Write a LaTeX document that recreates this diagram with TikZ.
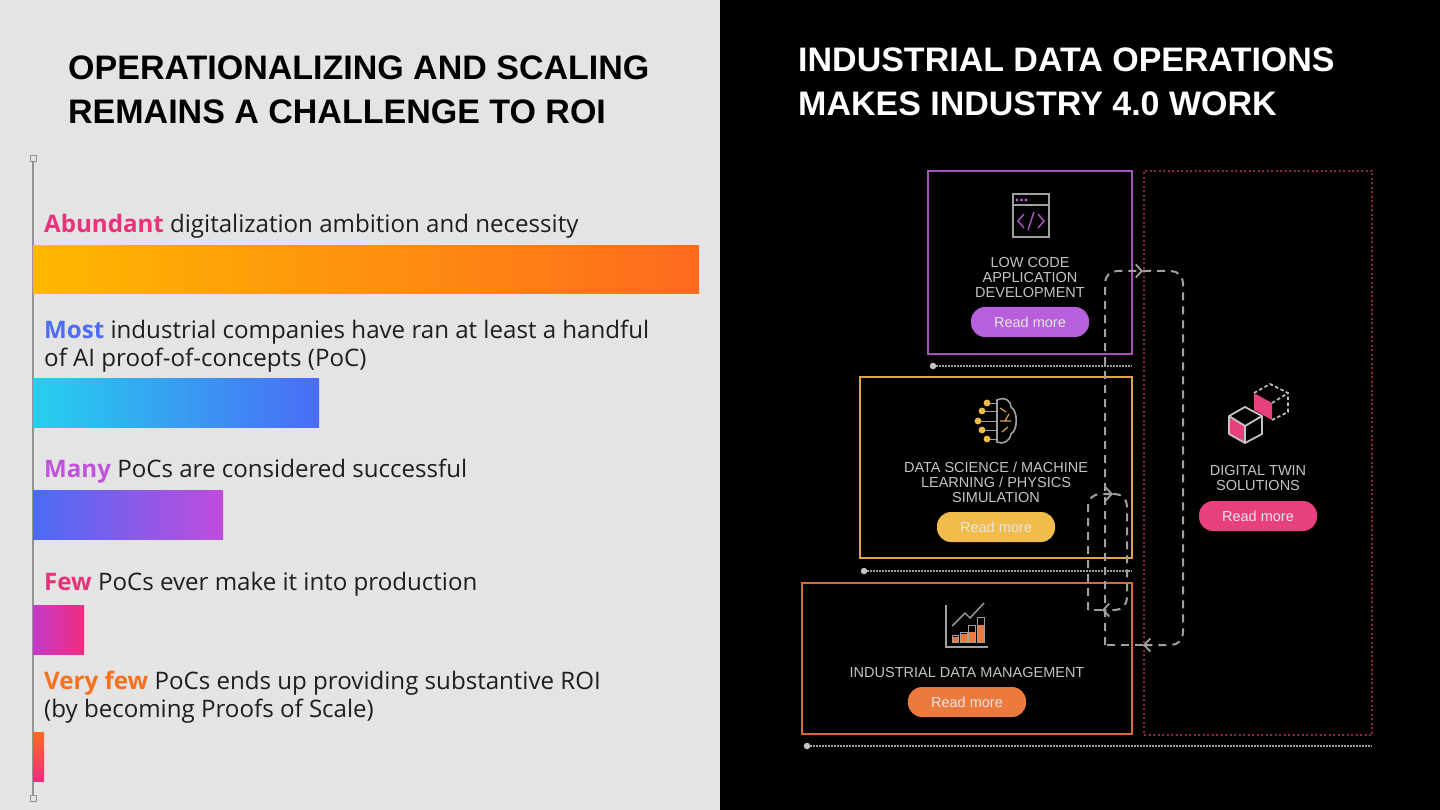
\documentclass[tikz,border=0pt]{standalone}
\usepackage{fontspec}
\setmainfont{Open Sans}
\newfontfamily\labelfont{Liberation Sans}
\usetikzlibrary{arrows.meta}
\definecolor{panelgrey}{HTML}{E4E4E4}
\definecolor{inkdark}{HTML}{1E1E1E}
\definecolor{wordgrey}{HTML}{C4C4C4}
\definecolor{linegrey}{HTML}{A0A0A0}
\definecolor{pinkword}{HTML}{E8327C}
\definecolor{blueword}{HTML}{4F6CF5}
\definecolor{violetword}{HTML}{C052DC}
\definecolor{orangeword}{HTML}{F5711E}
\definecolor{purplebox}{HTML}{A651BE}
\definecolor{yellowbox}{HTML}{DDA548}
\definecolor{orangebox}{HTML}{D9683A}
\definecolor{pinkbox}{HTML}{8E2248}
\definecolor{purplepill}{HTML}{B75FDC}
\definecolor{yellowpill}{HTML}{F2BC4A}
\definecolor{orangepill}{HTML}{EC7A3E}
\definecolor{pinkpill}{HTML}{E8407E}
\definecolor{baramber}{HTML}{FFB800}
\definecolor{barorange}{HTML}{FF6A1E}
\definecolor{barcyan}{HTML}{25D0EE}
\definecolor{barblue}{HTML}{4A6CF5}
\definecolor{barviolet}{HTML}{C04CDD}
\definecolor{barmagenta}{HTML}{C43AC8}
\definecolor{barpink}{HTML}{F02C80}
\tikzset{
    headline/.style={anchor=north west,inner sep=0pt,align=left,font=\labelfont\fontsize{34}{44}\selectfont\bfseries},
    bodytext/.style={anchor=north west,inner sep=0pt,align=left,text=inkdark,font=\fontsize{24.1}{28}\selectfont},
    framebox/.style={draw,line width=2.2pt,inner sep=0pt},
    boxtitle/.style={inner sep=0pt,align=center,text=wordgrey,font=\labelfont\fontsize{14.5}{15}\selectfont},
    readmore/.style={rounded corners=14pt,minimum width=118pt,minimum height=30pt,inner sep=0pt,text=white!80!gray,font=\labelfont\fontsize{14.5}{15}\selectfont},
    flowline/.style={linegrey,line width=2pt,dash pattern=on 8pt off 6pt,rounded corners=12pt},
    barbtip/.style={-{Straight Barb[length=6pt,width=13pt,line width=1.8pt]}},
    dotline/.style={draw=linegrey,line width=2.2pt,dash pattern=on 1.8pt off 1.2pt},
    startdot/.style={circle,fill=wordgrey,inner sep=0pt,minimum size=6.5pt},
    handle/.style={draw=gray!85,fill=panelgrey,line width=1pt,inner sep=0pt,minimum size=6pt},
    iconline/.style={draw=linegrey,line width=1.6pt},
}
\begin{document}
\begin{tikzpicture}[x=1pt,y=-1pt]
    \useasboundingbox (0,0) rectangle (1440,810);
    \fill[panelgrey] (0,0) rectangle (720,810);
    \fill[black] (720,0) rectangle (1440,810);

    \node[headline,text=black] (titleleft) at (68,56) {OPERATIONALIZING AND SCALING\\REMAINS A CHALLENGE TO ROI};
    \node[headline,text=white] (titleright) at (798,48) {INDUSTRIAL DATA OPERATIONS\\MAKES INDUSTRY 4.0 WORK};

    \node[handle] (handletop) at (33,159) {};
    \node[handle] (handlebottom) at (33,798) {};
    \draw[gray!85,line width=1.2pt] (handletop) -- (handlebottom);

    \shade[left color=baramber,right color=barorange] (33,246) rectangle (699,294);
    \shade[left color=barcyan,right color=barblue] (33,378) rectangle (319,427);
    \shade[left color=barblue,right color=barviolet] (33,490) rectangle (223,539);
    \shade[left color=barmagenta,right color=barpink] (33,605) rectangle (84,654);
    \shade[top color=barorange,bottom color=barpink] (33,732) rectangle (44,781);

    \node[bodytext] (lineabundant) at (44,214) {\textcolor{pinkword}{\bfseries Abundant} digitalization ambition and necessity};
    \node[bodytext] (linemost) at (44,320) {\textcolor{blueword}{\bfseries Most} industrial companies have ran at least a handful\\of AI proof-of-concepts (PoC)};
    \node[bodytext] (linemany) at (44,459) {\textcolor{violetword}{\bfseries Many} PoCs are considered successful};
    \node[bodytext] (linefew) at (44,572) {\textcolor{pinkword}{\bfseries Few} PoCs ever make it into production};
    \node[bodytext] (lineveryfew) at (44,671) {\textcolor{orangeword}{\bfseries Very few} PoCs ends up providing substantive ROI\\(by becoming Proofs of Scale)};

    \node[framebox,draw=purplebox,minimum width=204pt,minimum height=183pt] (boxlowcode) at (1030,262.5) {};
    \node[framebox,draw=yellowbox,minimum width=272pt,minimum height=181pt] (boxscience) at (996,467.5) {};
    \node[framebox,draw=orangebox,minimum width=330pt,minimum height=151pt] (boxdata) at (967,658.5) {};
    \node[draw=pinkbox,line width=1.5pt,dash pattern=on 2pt off 2.5pt,minimum width=228pt,minimum height=564pt,inner sep=0pt] (boxtwin) at (1258,453) {};

    \node[boxtitle] (labellowcode) at (1030,277.5) {LOW CODE\\APPLICATION\\DEVELOPMENT};
    \node[boxtitle] (labelscience) at (996,482) {DATA SCIENCE / MACHINE\\LEARNING / PHYSICS\\SIMULATION};
    \node[boxtitle] (labeldata) at (967,672.5) {INDUSTRIAL DATA MANAGEMENT};
    \node[boxtitle] (labeltwin) at (1258,478.5) {DIGITAL TWIN\\SOLUTIONS};

    \node[readmore,fill=purplepill] (pilllowcode) at (1030,322) {Read more};
    \node[readmore,fill=yellowpill] (pillscience) at (996,527) {Read more};
    \node[readmore,fill=orangepill] (pilldata) at (967,702) {Read more};
    \node[readmore,fill=pinkpill] (pilltwin) at (1258,516) {Read more};

    \node[startdot] (dotlowcode) at (933,366) {};
    \coordinate (endlowcode) at (1132,366);
    \node[startdot] (dotscience) at (864,571) {};
    \coordinate (endscience) at (1132,571);
    \node[startdot] (dotdata) at (807,746) {};
    \coordinate (enddata) at (1372,746);
    \draw[dotline] (dotlowcode) -- (endlowcode);
    \draw[dotline] (dotscience) -- (endscience);
    \draw[dotline] (dotdata) -- (enddata);

    \coordinate (outerstart) at (1105,645);
    \coordinate (outertip) at (1143,271);
    \coordinate (outerright) at (1183,450);
    \coordinate (outerback) at (1143,645);
    \draw[flowline,barbtip] (outerstart) |- (outertip);
    \draw[flowline,barbtip] (outertip) -| (outerright) |- (outerback);
    \draw[flowline] (outerback) -- (outerstart);

    \coordinate (innerstart) at (1088,610);
    \coordinate (innertip) at (1113,494);
    \coordinate (innerright) at (1127,550);
    \coordinate (innerback) at (1102,610);
    \draw[flowline,barbtip] (innerstart) |- (innertip);
    \draw[flowline,barbtip] (innertip) -| (innerright) |- (innerback);
    \draw[flowline] (innerback) -- (innerstart);

    \draw[iconline] (1013,194) rectangle (1049,237);
    \draw[iconline] (1013,205) -- (1049,205);
    \foreach \dx in {1017,1021.5,1026} {
        \fill[purplepill] (\dx,200) circle (1.6pt);
    }
    \draw[purplebox,line width=1.5pt] (1024,214) -- (1018,221) -- (1024,228);
    \draw[purplebox,line width=1.5pt] (1038,214) -- (1044,221) -- (1038,228);
    \draw[purplebox,line width=1.5pt] (1034,212) -- (1028,230);

    \draw[iconline] (997,400) .. controls (1006,396) and (1011,402) .. (1011,407) .. controls (1018,411) and (1018,430) .. (1011,434) .. controls (1010,441) and (1003,445) .. (997,442) -- cycle;
    \foreach \dy/\dx in {403/987,411/982,421/978,430/982,439/987} {
        \draw[linegrey,line width=1pt] (\dx,\dy) -- (997,\dy);
        \fill[yellowpill] (\dx,\dy) circle (3.4pt);
    }
    \draw[yellowbox,line width=1.2pt] (1000,408) -- (1006,412) (1000,421) -- (1011,421) (1005,421) -- (1009,414) (1002,432) -- (1008,427);

    \fill[pinkpill] (1229,416) -- (1245,426) -- (1245,443) -- (1229,434) -- cycle;
    \draw[draw=wordgrey,line width=1.8pt,line join=round] (1245,407) -- (1262,416) -- (1262,434) -- (1245,443) -- (1229,434) -- (1229,416) -- cycle;
    \draw[draw=wordgrey,line width=1.8pt,line join=round] (1229,416) -- (1245,426) -- (1262,416) (1245,426) -- (1245,443);
    \fill[pinkpill] (1254,393) -- (1272,403) -- (1272,420) -- (1254,410) -- cycle;
    \draw[wordgrey,line width=1.6pt,dash pattern=on 3.5pt off 2.5pt] (1254,393) -- (1270,384) -- (1288,393) -- (1288,412) -- (1272,420);
    \draw[wordgrey,line width=1.6pt,dash pattern=on 3.5pt off 2.5pt] (1272,403) -- (1288,393);

    \draw[iconline,line width=1.4pt] (946,605) -- (946,647) -- (988,647);
    \draw[iconline,line width=1.4pt] (952,626) -- (965,613) -- (970,618) -- (984,603);
    \foreach \xa/\xb/\ya/\yb in {952/958/635/637,960/967/632/634,968/975/625/632,977/984/617/625} {
        \fill[orangepill] (\xa,\yb) rectangle (\xb,642);
        \draw[linegrey,line width=1pt] (\xa,\ya) rectangle (\xb,642);
    }
\end{tikzpicture}
\end{document}
